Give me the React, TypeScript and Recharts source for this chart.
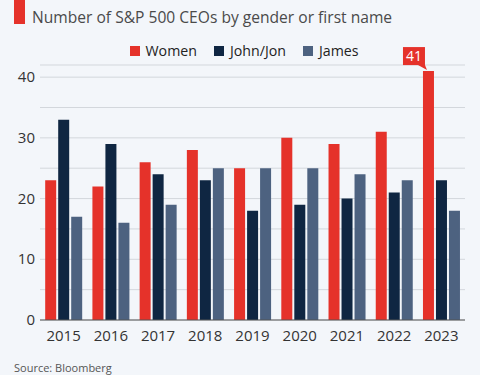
import { BarChart, Bar, XAxis, YAxis, CartesianGrid, LabelList } from 'recharts';

const years = ['2015', '2016', '2017', '2018', '2019', '2020', '2021', '2022', '2023'];
const women = [23, 22, 26, 28, 25, 30, 29, 31, 41];
const johnJon = [33, 29, 24, 23, 18, 19, 20, 21, 23];
const james = [17, 16, 19, 25, 25, 25, 24, 23, 18];
const yTicks = [0, 5, 10, 15, 20, 25, 30, 35, 40];

const RED = '#e5322a';
const NAVY = '#0f2642';
const SLATE = '#4d6280';
const FONT = '"Open Sans", "Noto Sans", sans-serif';

const data = years.map((year, i) => ({
  year,
  women: women[i],
  john: johnJon[i],
  james: james[i],
}));

const legendItems = [
  { label: 'Women', color: RED },
  { label: 'John/Jon', color: NAVY },
  { label: 'James', color: SLATE },
];

const YTick = ({ x, y, payload }: any) => {
  if (payload.value % 10 !== 0) return null;
  return (
    <text x={x} y={y} dy={5} textAnchor="end" fontSize={15} fill="#333" fontFamily={FONT}>
      {payload.value}
    </text>
  );
};

// callout only on the last (highest) women bar
const Callout = (props: any) => {
  const { x, y, index, value } = props;
  if (index !== years.length - 1) return null;
  const right = x + 2;
  const left = right - 22;
  const bottom = y - 6;
  const top = bottom - 18;
  return (
    <g>
      <rect x={left} y={top} width={22} height={18} fill={RED} />
      <polygon points={`${right - 7},${bottom} ${right},${bottom} ${right + 2},${bottom + 5}`} fill={RED} />
      <text x={left + 11} y={top + 14} textAnchor="middle" fontSize={14} fill="#fff" fontFamily={FONT}>
        {value}
      </text>
    </g>
  );
};

export default function App() {
  return (
    <div style={{ position: 'absolute', left: 0, top: 0, width: 480, height: 375, background: '#f3f6fa', fontFamily: FONT, overflow: 'hidden' }}>
      <div style={{ position: 'absolute', left: 14, top: 0, width: 11, height: 24, background: RED }} />
      <div style={{ position: 'absolute', left: 32, top: 6, fontSize: 15.6, color: '#4a4a4a', whiteSpace: 'nowrap' }}>
        Number of S&amp;P 500 CEOs by gender or first name
      </div>
      <div style={{ position: 'absolute', left: 4, width: 480, top: 41, display: 'flex', justifyContent: 'center', gap: 17, fontSize: 14.2, color: '#222' }}>
        {legendItems.map((it) => (
          <div key={it.label} style={{ display: 'flex', alignItems: 'center', gap: 6 }}>
            <span style={{ width: 10, height: 10, background: it.color, display: 'inline-block' }} />
            <span>{it.label}</span>
          </div>
        ))}
      </div>
      <div style={{ position: 'absolute', left: 0, top: 0 }}>
        <BarChart width={480} height={375} data={data} margin={{ top: 65, right: 15, bottom: 30, left: 0 }} barCategoryGap="11%" barGap={2}>
          <CartesianGrid vertical={false} stroke="#d3d7dc" />
          <XAxis dataKey="year" tickLine={false} axisLine={{ stroke: '#555' }} tick={{ fontSize: 15, fill: '#333', fontFamily: FONT }} tickMargin={4} height={25} />
          <YAxis domain={[0, 42]} ticks={yTicks} width={40} axisLine={false} tickLine={false} tickSize={0} tickMargin={5} tick={<YTick />} interval={0} />
          <Bar dataKey="women" fill={RED} isAnimationActive={false}>
            <LabelList dataKey="women" content={<Callout />} />
          </Bar>
          <Bar dataKey="john" fill={NAVY} isAnimationActive={false} />
          <Bar dataKey="james" fill={SLATE} isAnimationActive={false} />
        </BarChart>
      </div>
      <div style={{ position: 'absolute', left: 14, top: 360, fontSize: 11, color: '#555' }}>Source: Bloomberg</div>
    </div>
  );
}
